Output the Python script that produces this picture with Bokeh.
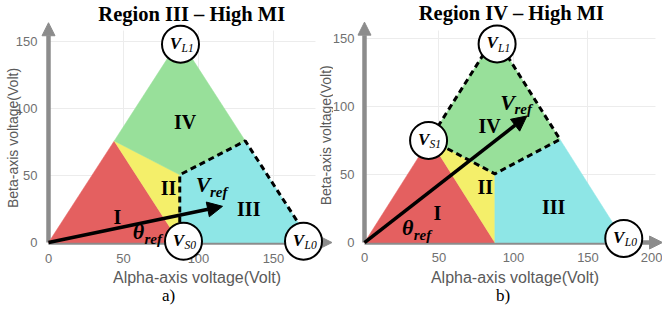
import math
from bokeh.plotting import figure
from bokeh.layouts import row
from bokeh.models import Range1d, LinearAxis, FixedTicker, Grid, Arrow, NormalHead, ColumnDataSource
from bokeh.embed import file_html
from bokeh.resources import INLINE
from bokeh.core.properties import value

# ---------------- data (volts) ----------------
vertex_names = ["O", "VS0", "VL0", "VM", "VL1", "VS1", "G"]
vertex_alpha = [0.0, 87.5, 175.0, 131.2, 87.5, 43.8, 87.5]
vertex_beta = [0.0, 0.0, 0.0, 75.8, 151.6, 75.8, 50.5]

region_labels = ["I", "II", "III", "IV"]
region_corners = [["O", "VS0", "VS1"],
                  ["VS0", "G", "VS1"],
                  ["VS0", "VL0", "VM", "G"],
                  ["VS1", "G", "VM", "VL1"]]
region_colors = ["#e46060", "#f4ef6a", "#8ee6e6", "#98e09a"]

y_ticks = [0, 50, 100, 150]
x_ticks_a = [0, 50, 100, 150]
x_ticks_b = [0, 50, 100, 150, 200]

panel_titles = ["Region III \u2013 High MI", "Region IV \u2013 High MI"]
panel_tags = ["a)", "b)"]
x_label = "Alpha-axis voltage(Volt)"
y_label = "Beta-axis voltage(Volt)"

vref_alpha = [116.0, 109.0]
vref_beta = [27.0, 93.0]
highlight_paths = [["VS0", "G", "VM", "VL0"],
                   ["VS1", "G", "VM", "VL1", "VS1"]]
circled_subs = [["L1", "S0", "L0"], ["L1", "S1", "L0"]]

# ---------------- layout (positions of annotations) ----------------
FIG_H = 305
SERIF = "Liberation Serif"
SANS = "Liberation Sans"
# panel a: 0 V at x=48 px, 1.5 px/V ; y 0 V at 242 px, 1.34 px/V
# panel b: 0 V at x=364 px, 1.49 px/V ; y 0 V at 242 px, 1.36 px/V
layouts = [
    dict(w=333, xr=(-32.0, 190.0), yr=(-47.0, 180.6), xt=x_ticks_a, ax_end=(189, 164),
         reg_pos=[(46, 19), (80, 41), (133.5, 25), (91, 90)],
         vref_txt=(103, 43), theta_txt=(60, 8),
         circ_pos=[(88, 148), (90, 1), (170, 1)],
         title_pos=(95.5, 170.5), xlab_pos=(99, -26), ylab_pos=(-23.5, 78),
         seam_lab=(185.0, 80), std=5,
         tag_pos=(80, -39.5), grid_x=(0, 178), grid_y=(0, 158)),
    dict(w=329, xr=(-20.8, 200.0), yr=(-46.3, 177.9), xt=x_ticks_b, ax_end=(200, 162),
         reg_pos=[(49, 21.5), (81, 40.5), (127, 26), (84, 86)],
         vref_txt=(96, 103), theta_txt=(29, 11),
         circ_pos=[(89, 146), (43, 75), (174, 3)],
         title_pos=(98.7, 168.4), xlab_pos=(101, -25.5), ylab_pos=None, seam_lab=None, std=4,
         tag_pos=(93, -39.0), grid_x=(0, 195), grid_y=(0, 156)),
]

vidx = {n: i for i, n in enumerate(vertex_names)}


def pts(names):
    return [vertex_alpha[vidx[n]] for n in names], [vertex_beta[vidx[n]] for n in names]


def txt(p, x, y, s, size, style="bold", font=SERIF, color="black", align="center",
        xo=0, yo=0, angle=0.0):
    p.text(x=[x], y=[y], text=[s], text_font=value(font), text_font_size=value(size),
           text_font_style=style, text_color=color, text_align=align,
           text_baseline="middle", x_offset=xo, y_offset=yo, angle=angle)


def make_panel(k):
    L = layouts[k]
    p = figure(width=L["w"], height=FIG_H, x_range=Range1d(*L["xr"]), y_range=Range1d(*L["yr"]),
               x_axis_type=None, y_axis_type=None, toolbar_location=None,
               output_backend="svg", min_border=0, outline_line_color=None, title=None)
    p.background_fill_color = "white"
    p.border_fill_color = "white"

    # faint grid
    for dim, tk, cb in ((0, L["xt"], L["grid_y"]), (1, y_ticks, L["grid_x"])):
        kw = dict(dimension=dim, ticker=FixedTicker(ticks=tk), grid_line_color="#ececec",
                  grid_line_width=1)
        try:
            g = Grid(cross_bounds=cb, **kw)
        except Exception:
            g = Grid(**kw)
        p.add_layout(g)

    # axes through the origin
    common = dict(fixed_location=0, axis_line_color=None, major_tick_line_color=None,
                  minor_tick_line_color=None, major_label_text_font=SANS,
                  major_label_text_font_size="13px", major_label_text_color="#707070",
                  major_label_standoff=L["std"])
    xa = LinearAxis(ticker=FixedTicker(ticks=L["xt"]), **common)
    ya = LinearAxis(ticker=FixedTicker(ticks=y_ticks), **common)
    xa.level = "underlay"
    ya.level = "underlay"
    p.add_layout(xa, "below")
    p.add_layout(ya, "left")

    gray = "#8c8c8c"
    p.add_layout(Arrow(x_start=0, y_start=0, x_end=L["ax_end"][0], y_end=0, line_color=gray,
                       line_width=4.5, level="underlay",
                       end=NormalHead(size=13, fill_color=gray, line_color=gray)))
    p.add_layout(Arrow(x_start=0, y_start=0, x_end=0, y_end=L["ax_end"][1], line_color=gray,
                       line_width=4.5, level="underlay",
                       end=NormalHead(size=13, fill_color=gray, line_color=gray)))

    # regions
    xs, ys = [], []
    for names in region_corners:
        a, b = pts(names)
        xs.append(a)
        ys.append(b)
    src = ColumnDataSource(dict(xs=xs, ys=ys, color=region_colors))
    p.patches("xs", "ys", source=src, fill_color="color", line_color="color", line_width=0.5)

    # dashed highlighted region
    a, b = pts(highlight_paths[k])
    p.line(a, b, line_color="black", line_width=3, line_dash="6 4")

    # region labels
    for lab, (x, y) in zip(region_labels, L["reg_pos"]):
        txt(p, x, y, lab, "20px")

    # V_ref and theta_ref
    x, y = L["vref_txt"]
    txt(p, x, y, "V", "22px", style="bold italic")
    txt(p, x, y, "ref", "15px", style="bold italic", align="left", xo=7, yo=7)
    x, y = L["theta_txt"]
    txt(p, x, y, "\u03b8", "22px", style="bold italic")
    txt(p, x, y, "ref", "15px", style="bold italic", align="left", xo=6, yo=7)

    # reference vector
    p.add_layout(Arrow(x_start=0, y_start=0, x_end=vref_alpha[k], y_end=vref_beta[k],
                       line_color="black", line_width=3.5,
                       end=NormalHead(size=15, fill_color="black", line_color="black")))

    # circled vectors
    cx = [c[0] for c in L["circ_pos"]]
    cy = [c[1] for c in L["circ_pos"]]
    p.scatter(cx, cy, marker="circle", size=37, fill_color="white", line_color="black",
              line_width=2)
    for (x, y), sub in zip(L["circ_pos"], circled_subs[k]):
        txt(p, x, y, "V", "17px", style="bold italic", xo=-5, yo=-1)
        txt(p, x, y, sub, "11.5px", style="italic", align="left", xo=1, yo=4)

    # titles and axis labels
    x, y = L["title_pos"]
    txt(p, x, y, panel_titles[k], "20.5px")
    x, y = L["xlab_pos"]
    txt(p, x, y, x_label, "16px", style="normal", font=SANS, color="#5a5a5a")
    if L["ylab_pos"] is not None:
        x, y = L["ylab_pos"]
        txt(p, x, y, y_label, "14px", style="normal", font=SANS, color="#5a5a5a",
            angle=math.pi / 2)
    if L["seam_lab"] is not None:
        # y label of panel b, seen at the seam between the panels
        x, y = L["seam_lab"]
        txt(p, x, y, y_label, "14px", style="normal", font=SANS, color="#5a5a5a",
            angle=math.pi / 2)
    x, y = L["tag_pos"]
    txt(p, x, y, panel_tags[k], "17px", style="normal")
    return p


layout = row(make_panel(0), make_panel(1))
open("out.html", "w").write(file_html(layout, INLINE))
